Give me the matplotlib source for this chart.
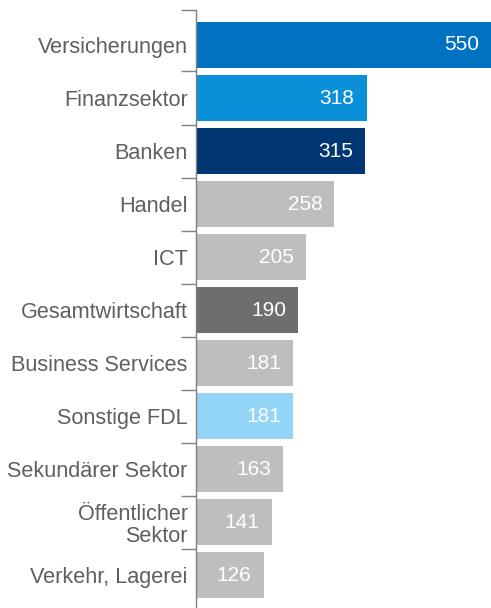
import matplotlib
matplotlib.use("Agg")
import matplotlib.pyplot as plt

matplotlib.rcParams['font.family'] = ['Liberation Sans', 'DejaVu Sans']

categories = ["Versicherungen", "Finanzsektor", "Banken", "Handel", "ICT",
              "Gesamtwirtschaft", "Business Services", "Sonstige FDL",
              "Sekundärer Sektor", "Öffentlicher\nSektor", "Verkehr, Lagerei"]
values = [550, 318, 315, 258, 205, 190, 181, 181, 163, 141, 126]
colors = ["#0072c1", "#0a8fd9", "#003672", "#bebebe", "#bebebe", "#6e6e6e",
          "#bebebe", "#93d5f6", "#bebebe", "#bebebe", "#bebebe"]

fig = plt.figure(figsize=(4.91, 6.08), dpi=100)
ax = fig.add_axes([196 / 491, 0, 295 / 491, 598 / 608])

pos = list(range(len(categories)))
ax.barh(pos, values, height=0.87, color=colors, zorder=2)

for y, v in zip(pos, values):
    ax.text(v - 550 * 12 / 295, y, f"{v}", ha="right", va="center",
            color="white", fontsize=15)

ax.set_xlim(0, 550)
ax.set_ylim(10.62, -0.66)

ax.set_yticks(pos, categories, fontsize=15.6, color="#5f5f5f")
ax.tick_params(axis="y", which="major", length=0, pad=6)
ax.set_yticks([-0.66] + [i + 0.5 for i in range(len(categories) - 1)], minor=True)
ax.tick_params(axis="y", which="minor", length=11, width=1, color="#808080")
ax.set_xticks([])

for s in ["top", "right", "bottom"]:
    ax.spines[s].set_visible(False)
ax.spines["left"].set_color("#808080")
ax.spines["left"].set_linewidth(1)
for lbl in ax.get_yticklabels():
    lbl.set_multialignment("right")
    lbl.set_linespacing(1.1)

fig.savefig("out.png", dpi=100)
